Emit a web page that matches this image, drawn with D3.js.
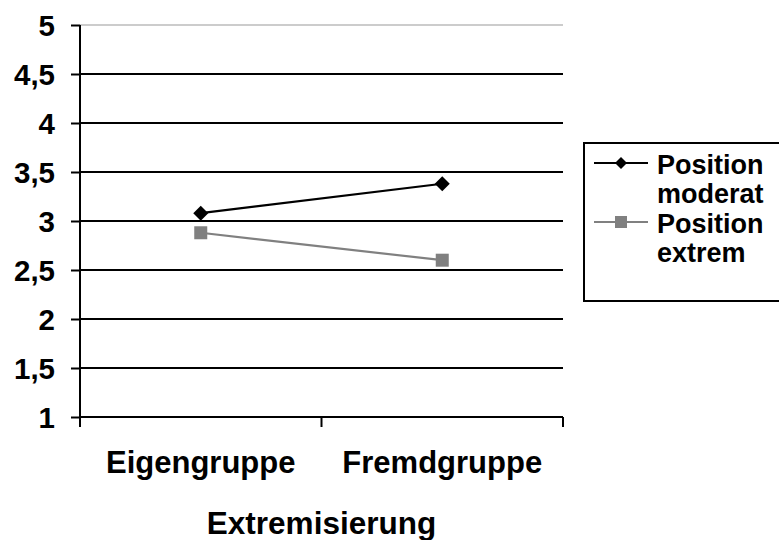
<!DOCTYPE html>
<html><head><meta charset="utf-8">
<script src="https://cdn.jsdelivr.net/npm/d3@7"></script>
<style>body{margin:0;background:#fff}svg{display:block}text{font-family:"Liberation Sans",Arial,sans-serif;font-weight:bold}</style>
</head><body>
<svg id="c" width="779" height="540"></svg>
<script>
const categories = ["Eigengruppe", "Fremdgruppe"];
const seriesNames = [["Position", "moderat"], ["Position", "extrem"]];
const moderat = [3.08, 3.38];
const extrem = [2.88, 2.60];
const yTicks = [1, 1.5, 2, 2.5, 3, 3.5, 4, 4.5, 5];
const xTitle = "Extremisierung";

const svg = d3.select("#c");
const L = 80, R = 563, T = 25, B = 417;
const y = d3.scaleLinear().domain([1, 5]).range([B, T]);
const x = d3.scaleBand().domain(categories).range([L, R]);
const fmt = d => String(d).replace(".", ",");
const FONT = '"Liberation Sans",Arial,sans-serif';

// gridlines
svg.append("g").selectAll("line").data(yTicks.filter(d => d > 1 && d < 5)).join("line")
  .attr("x1", L).attr("x2", R).attr("y1", d => y(d)).attr("y2", d => y(d))
  .attr("stroke", "#000").attr("stroke-width", 2);
// top border (light gray)
svg.append("line").attr("x1", L).attr("x2", R).attr("y1", y(5)).attr("y2", y(5))
  .attr("stroke", "#bbb").attr("stroke-width", 1.5);

// y axis
const ya = svg.append("g").attr("transform", `translate(${L},0)`)
  .call(d3.axisLeft(y).tickValues(yTicks).tickFormat(fmt).tickSize(9).tickPadding(16));
ya.select(".domain").attr("stroke", "#000").attr("stroke-width", 2).attr("d", `M0,${T}V${B}`);
ya.selectAll(".tick line").attr("stroke", "#000").attr("stroke-width", 2);
ya.selectAll(".tick text").attr("font-size", 29.5).attr("fill", "#000").attr("dy", "0.36em")
  .attr("font-family", FONT).attr("font-weight", "bold");

// x axis
const xa = svg.append("g").attr("transform", `translate(0,${B})`)
  .call(d3.axisBottom(x).tickSize(0).tickPadding(0));
xa.select(".domain").attr("stroke", "#000").attr("stroke-width", 2).attr("d", `M${L},0H${R}`);
xa.selectAll(".tick text").attr("font-size", 31).attr("fill", "#000").attr("dy", null).attr("y", 56)
  .attr("font-family", FONT).attr("font-weight", "bold");
// x tick marks at band boundaries
const bounds = [L, ...categories.map(c => x(c) + x.bandwidth())];
svg.append("g").selectAll("line").data(bounds).join("line")
  .attr("x1", d => d).attr("x2", d => d).attr("y1", B).attr("y2", B + 10)
  .attr("stroke", "#000").attr("stroke-width", 2);

svg.append("text").attr("x", (L + R) / 2).attr("y", 534).attr("text-anchor", "middle")
  .attr("font-size", 31.5).text(xTitle);

const cx = c => x(c) + x.bandwidth() / 2;
const line = d3.line().x((d, i) => cx(categories[i])).y(d => y(d));

// series 2 (gray squares)
svg.append("path").datum(extrem).attr("d", line).attr("fill", "none")
  .attr("stroke", "#808080").attr("stroke-width", 2.2);
svg.append("g").selectAll("rect").data(extrem).join("rect")
  .attr("x", (d, i) => cx(categories[i]) - 6.5).attr("y", d => y(d) - 6.5)
  .attr("width", 13).attr("height", 13).attr("fill", "#808080");
// series 1 (black diamonds)
svg.append("path").datum(moderat).attr("d", line).attr("fill", "none")
  .attr("stroke", "#000").attr("stroke-width", 2.2);
const diamond = (px, py, r) => `M${px},${py - r}L${px + r},${py}L${px},${py + r}L${px - r},${py}Z`;
svg.append("g").selectAll("path").data(moderat).join("path")
  .attr("d", (d, i) => diamond(cx(categories[i]), y(d), 7.5)).attr("fill", "#000");

// legend
const lg = svg.append("g");
lg.append("rect").attr("x", 584).attr("y", 143).attr("width", 210).attr("height", 158)
  .attr("fill", "#fff").attr("stroke", "#000").attr("stroke-width", 2);
const items = [{n: seriesNames[0], col: "#000", m: "d", yy: 163}, {n: seriesNames[1], col: "#808080", m: "s", yy: 222}];
items.forEach(it => {
  lg.append("line").attr("x1", 594).attr("x2", 648).attr("y1", it.yy).attr("y2", it.yy)
    .attr("stroke", it.col).attr("stroke-width", 2);
  if (it.m === "d") lg.append("path").attr("d", diamond(621, it.yy, 6)).attr("fill", it.col);
  else lg.append("rect").attr("x", 615).attr("y", it.yy - 6).attr("width", 12).attr("height", 12).attr("fill", it.col);
  lg.append("text").attr("x", 657).attr("y", it.yy + 10.5).attr("font-size", 27).text(it.n[0]);
  lg.append("text").attr("x", 657).attr("y", it.yy + 40).attr("font-size", 27).text(it.n[1]);
});
</script>
</body></html>
